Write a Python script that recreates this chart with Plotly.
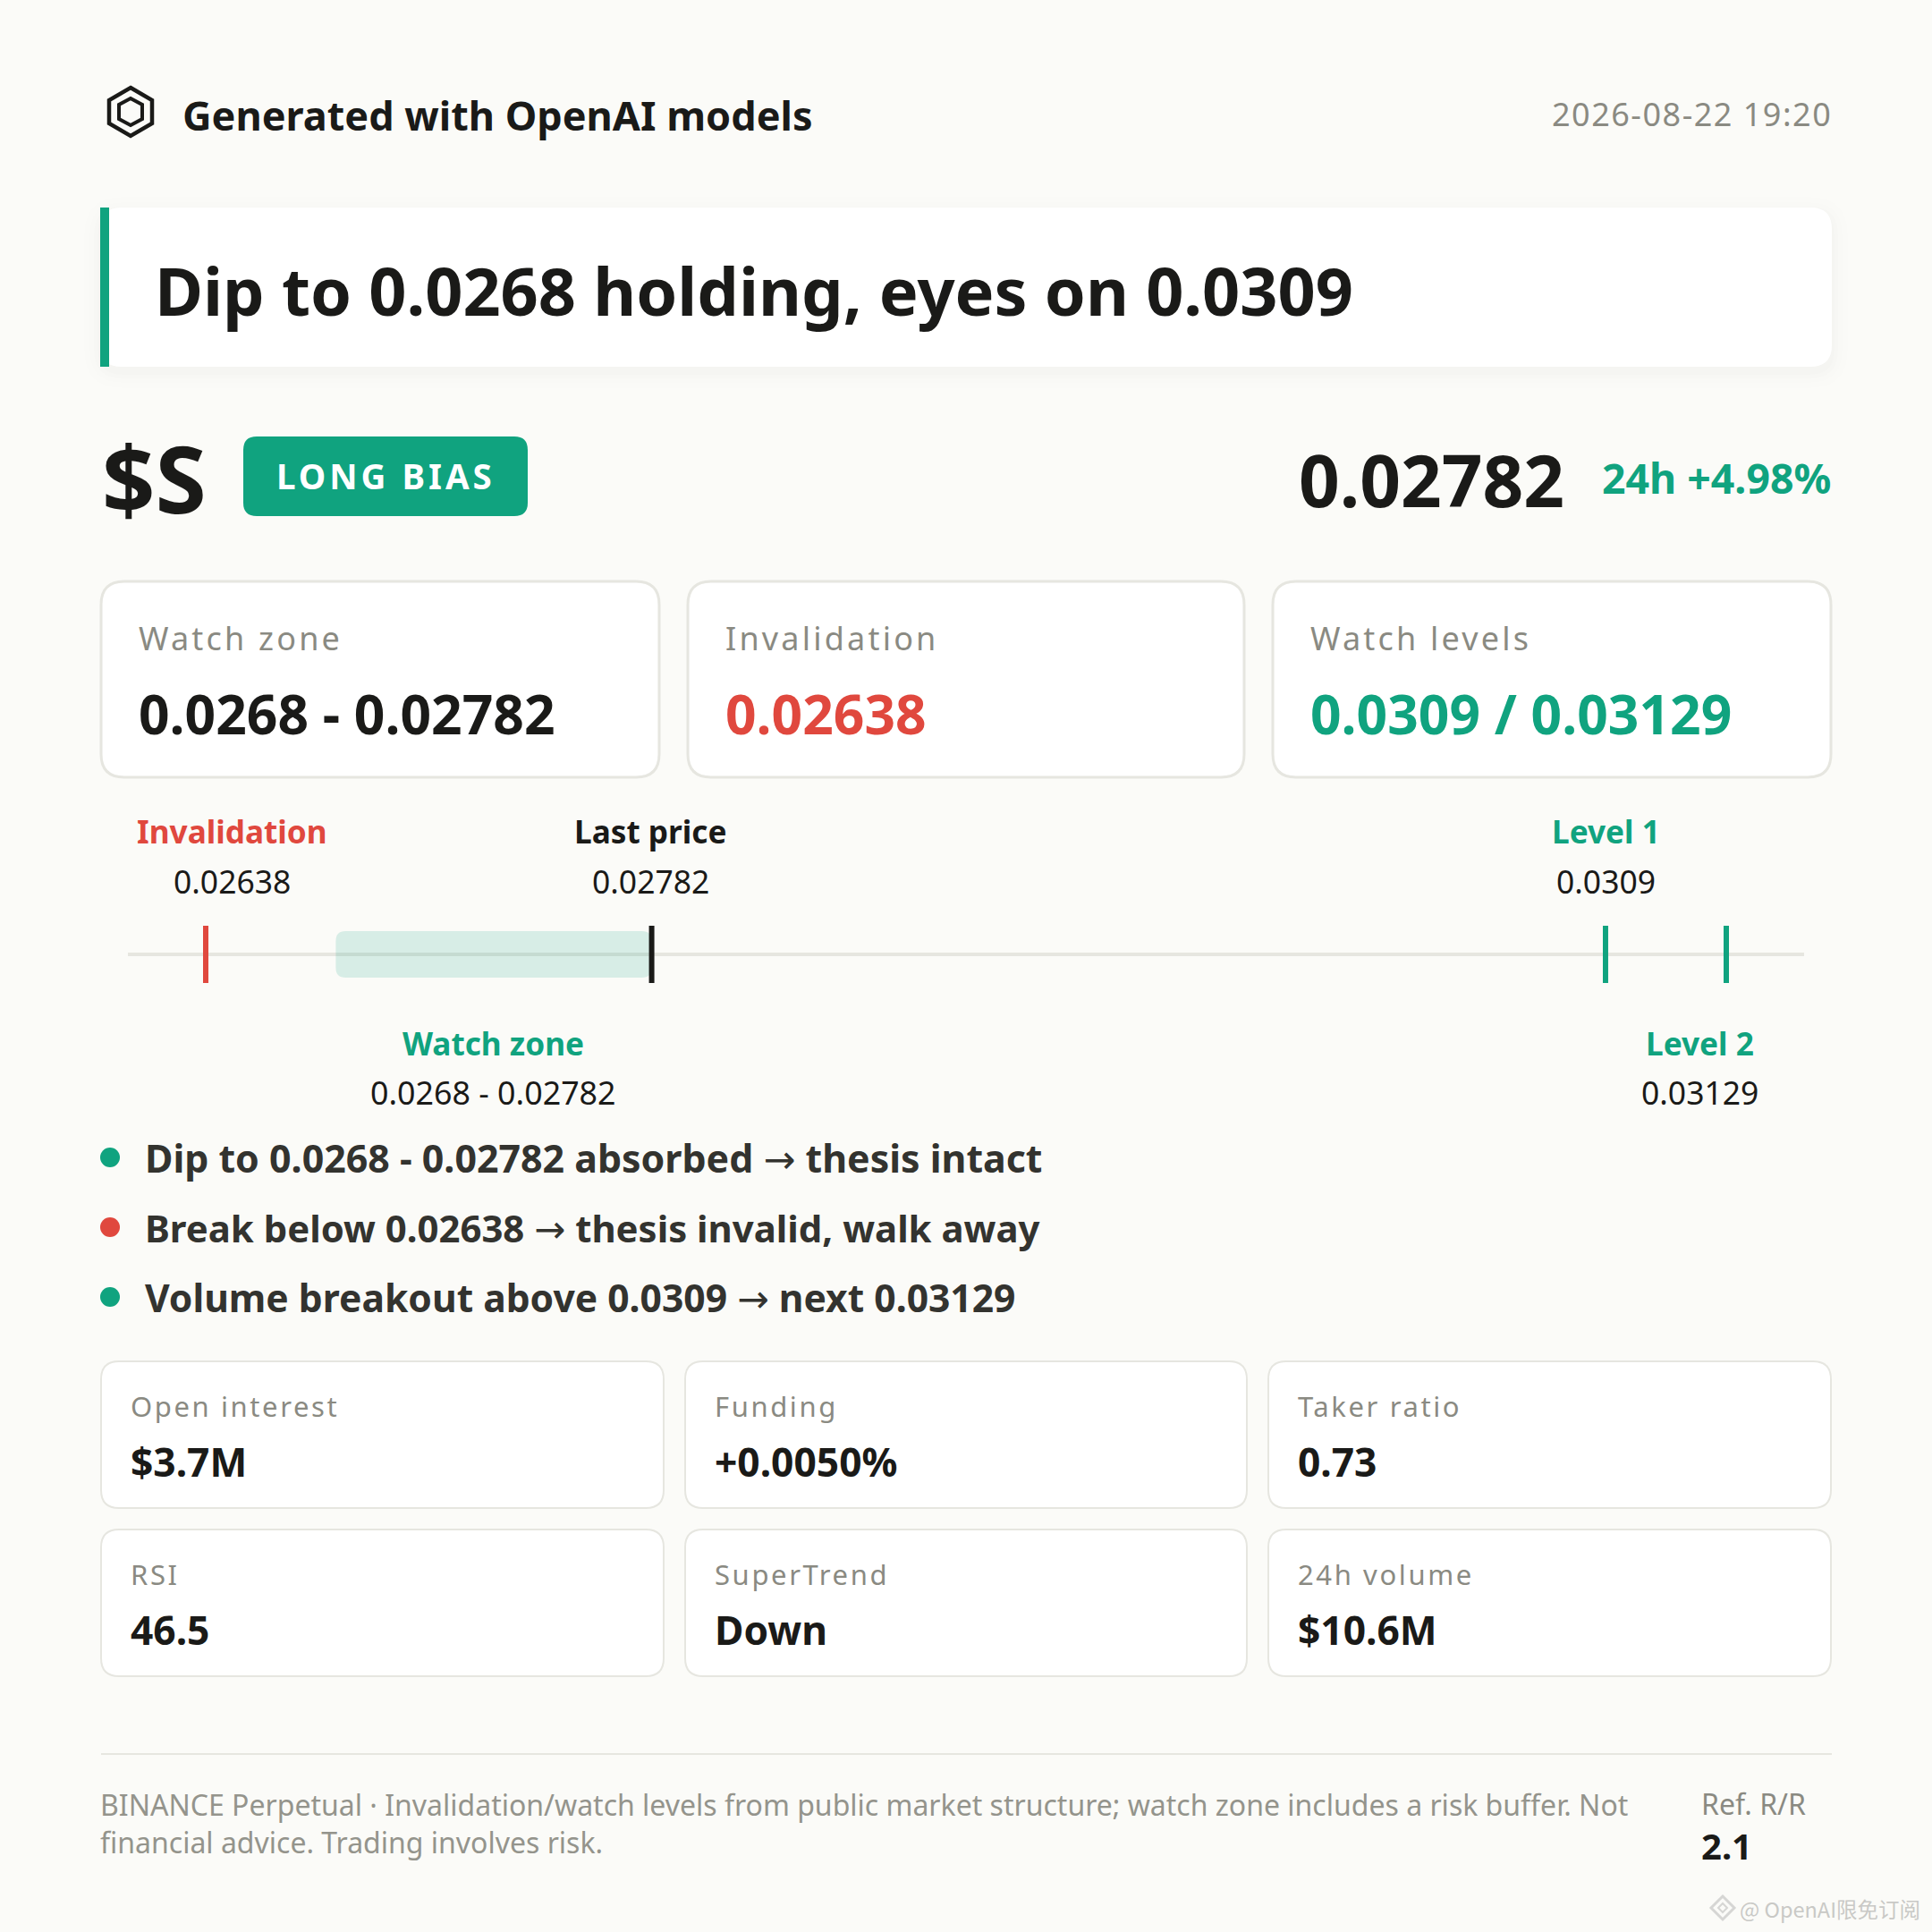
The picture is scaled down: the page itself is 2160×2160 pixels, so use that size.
import plotly.graph_objects as go

# Price levels shown on the strip
invalidation = 0.02638
zone_low = 0.0268
last_price = 0.02782
level_1 = 0.0309
level_2 = 0.03129

header = "Generated with OpenAI models"
timestamp = "2026-08-22 19:20"
headline = "Dip to 0.0268 holding, eyes on 0.0309"
ticker = "$S"
badge = "LONG BIAS"
price_text = "0.02782"
change_text = "24h +4.98%"

top_labels = ["Watch zone", "Invalidation", "Watch levels"]
top_values = ["0.0268 - 0.02782", "0.02638", "0.0309 / 0.03129"]

bullets = [
    ("Dip to 0.0268 - 0.02782 absorbed", "thesis intact"),
    ("Break below 0.02638", "thesis invalid, walk away"),
    ("Volume breakout above 0.0309", "next 0.03129"),
]

stat_labels = ["Open interest", "Funding", "Taker ratio", "RSI", "SuperTrend", "24h volume"]
stat_values = ["$3.7M", "+0.0050%", "0.73", "46.5", "Down", "$10.6M"]

footer = ("BINANCE Perpetual · Invalidation/watch levels from public market structure; "
          "watch zone includes a risk buffer. Not<br>financial advice. Trading involves risk.")

# Colors
BG = '#fbfbf8'
GREEN = '#10a37f'
RED = '#e0483e'
INK = '#1a1a18'
BODY = '#33332f'
GREY = '#8a8a82'
BORDER = '#e6e6e0'
FONT = 'Noto Sans'

fig = go.Figure()


def round_rect(x0, y0, x1, y1, r, ry=None):
    ry = r if ry is None else ry
    return (f"M{x0+r},{y0} L{x1-r},{y0} Q{x1},{y0} {x1},{y0+ry} L{x1},{y1-ry} Q{x1},{y1} {x1-r},{y1} "
            f"L{x0+r},{y1} Q{x0},{y1} {x0},{y1-ry} L{x0},{y0+ry} Q{x0},{y0} {x0+r},{y0} Z")


def card(x0, y0, x1, y1, r, border=BORDER, width=3):
    fig.add_shape(type="path", path=round_rect(x0, y0, x1, y1, r), fillcolor='white',
                  line=dict(color=border, width=width), layer="below")


def label(x, y, text, size, color=INK, weight=400, anchor='left', spacing=0, font=FONT):
    if spacing:
        text = f'<span style="letter-spacing:{spacing}px">{text}</span>'
    fig.add_annotation(x=x, y=y, text=text, showarrow=False, xanchor=anchor, yanchor='middle',
                       align=anchor, font=dict(family=font, size=size, color=color, weight=weight))


# Header icon
fig.add_shape(type="path", path="M146,98 L170,112 L170,138 L146,152 L122,138 L122,112 Z",
              line=dict(color=INK, width=4.5), fillcolor='rgba(0,0,0,0)')
fig.add_shape(type="path", path="M146,110 L159,117 L159,133 L146,140 L133,133 L133,117 Z",
              line=dict(color=INK, width=4), fillcolor='rgba(0,0,0,0)')
label(202, 128, header, 45, INK, 700)
label(2050, 127, timestamp, 36, GREY, 400, 'right', 1.5)

# Headline card with a soft shadow
for grow, alpha in [(18, 0.004), (12, 0.005), (7, 0.006), (3, 0.007)]:
    fig.add_shape(type="path", path=round_rect(112 - grow, 232 - grow + 6, 2048 + grow, 410 + grow + 6, 24 + grow),
                  fillcolor=f'rgba(0,0,0,{alpha})', line=dict(width=0), layer="below")
fig.add_shape(type="path", path=round_rect(112, 232, 2048, 410, 24), fillcolor='white',
              line=dict(width=0), layer="below")
fig.add_shape(type="rect", x0=112, x1=122, y0=232, y1=410, fillcolor=GREEN, line=dict(width=0), layer="below")
label(171, 324, headline, 73.8, INK, 700)

# Ticker row
label(112, 533, ticker, 104, INK, 700)
fig.add_shape(type="path", path=round_rect(272, 488, 590, 577, 15), fillcolor=GREEN, line=dict(width=0), layer="below")
label(431, 532, badge, 38.5, 'white', 700, 'center', 4)
label(1751, 535, price_text, 80, INK, 700, 'right')
label(2049, 534, change_text, 46.4, GREEN, 700, 'right')

# Top cards
top_x = [(113, 737), (769, 1391), (1423, 2047)]
top_colors = [INK, RED, GREEN]
for (x0, x1), name, val, col in zip(top_x, top_labels, top_values, top_colors):
    card(x0, 650, x1, 869, 26)
    label(x0 + 40, 713, name, 36, GREY, 400, 'left', 3.2)
    label(x0 + 40, 797, val, 60.5, col, 700)

# Price strip, drawn on its own linear price axis (x2)
strip_px_a, strip_px_b = 230, 1930
per_px = (level_2 - invalidation) / (strip_px_b - strip_px_a)
price_range = [invalidation - strip_px_a * per_px, invalidation + (2160 - strip_px_a) * per_px]

fig.add_shape(type="line", x0=143, x1=2017, y0=1067, y1=1067, line=dict(color=BORDER, width=4), layer="below")
for price, col in [(invalidation, RED), (last_price, INK), (level_1, GREEN), (level_2, GREEN)]:
    fig.add_trace(go.Scatter(x=[price, price], y=[1035, 1099], xaxis='x2', yaxis='y', mode='lines',
                             line=dict(color=col, width=6), showlegend=False, hoverinfo='skip'))

label(259, 929, "Invalidation", 35.2, RED, 700, 'center')
label(259, 985, f"{invalidation}", 35.5, INK, 400, 'center')
label(727, 929, "Last price", 35.2, INK, 700, 'center')
label(727, 985, f"{last_price}", 35.5, INK, 400, 'center')
label(1795, 929, "Level 1", 35.2, GREEN, 700, 'center')
label(1795, 985, f"{level_1}", 35.5, INK, 400, 'center')
label(551, 1166, "Watch zone", 35.2, GREEN, 700, 'center')
label(551, 1221, f"{zone_low} - {last_price}", 35.8, INK, 400, 'center')
label(1900, 1166, "Level 2", 35.2, GREEN, 700, 'center')
label(1900, 1221, f"{level_2}", 35.5, INK, 400, 'center')

# Bullets
arrow = "<span style=\"font-family:'DejaVu Sans';font-weight:400\">→</span>"
for y, (before, after), col, size in zip([1294, 1372, 1450], bullets, [GREEN, RED, GREEN], [42.9, 41.9, 42.6]):
    fig.add_shape(type="circle", x0=112, x1=134, y0=y - 11, y1=y + 11, fillcolor=col, line=dict(width=0))
    label(160, y, f"{before} {arrow} {after}", size, BODY, 700)

# Stat cards
stat_x = [(113, 742), (766, 1394), (1418, 2047)]
stat_y = [(1522, 1686), (1710, 1874)]
for i, (name, val) in enumerate(zip(stat_labels, stat_values)):
    x0, x1 = stat_x[i % 3]
    y0, y1 = stat_y[i // 3]
    card(x0, y0, x1, y1, 20, width=2)
    label(x0 + 31, y0 + 50, name, 31, GREY, 400, 'left', 2.6)
    label(x0 + 31, y0 + 112, val, 44.3, INK, 700)

# Footer
fig.add_shape(type="line", x0=113, x1=2048, y0=1961, y1=1961, line=dict(color=BORDER, width=2), layer="below")
fig.add_annotation(x=110, y=2038, text=footer, showarrow=False, xanchor='left', yanchor='middle', align='left',
                   font=dict(family=FONT, size=32, color='#94948c'))
label(1900, 2016, "Ref. R/R", 32, GREY, 400)
label(1900, 2063, "2.1", 40, INK, 700)

# Watermark
fig.add_shape(type="path", path="M1926,2120 L1939,2133 L1926,2146 L1913,2133 Z",
              line=dict(color='#d6d6d4', width=3), fillcolor='rgba(0,0,0,0)')
fig.add_shape(type="path", path="M1926,2128 L1931,2133 L1926,2138 L1921,2133 Z",
              line=dict(color='#d6d6d4', width=2), fillcolor='rgba(0,0,0,0)')
label(1943, 2134, "@ OpenAI限免订阅", 23.5, '#c9c9c6', 400, 'left', 0, 'Noto Sans CJK SC')

fig.update_shapes(xref='x', yref='y')
fig.update_annotations(xref='x', yref='y')

# Watch zone band sits on the price axis, over the strip line
fig.add_shape(type="path", xref='x2', yref='y', layer="below",
              path=round_rect(zone_low, 1041, last_price, 1093, 11 * per_px, 11),
              fillcolor='rgba(16,163,127,0.15)', line=dict(width=0))

fig.update_layout(
    width=2160, height=2160,
    margin=dict(l=0, r=0, t=0, b=0),
    paper_bgcolor=BG, plot_bgcolor=BG,
    showlegend=False,
    xaxis=dict(range=[0, 2160], visible=False, fixedrange=True),
    xaxis2=dict(range=price_range, visible=False, overlaying='x', fixedrange=True),
    yaxis=dict(range=[2160, 0], visible=False, fixedrange=True),
)

fig.write_html("out.html", config=dict(displayModeBar=False), post_script="document.body.style.margin='0';")
